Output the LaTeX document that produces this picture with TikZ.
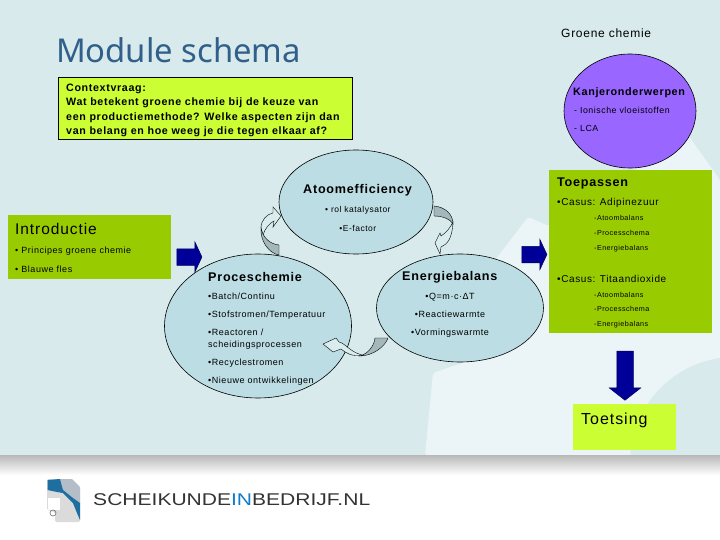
\documentclass[tikz,border=0pt]{standalone}
\usepackage{fontspec}
\usepackage{xcolor}
\setmainfont{Liberation Sans}
\newfontfamily\spaced[LetterSpace=6]{Liberation Sans}
\newfontfamily\titlefont{Noto Sans}
\usepackage{tikz}
\usetikzlibrary{arrows.meta, positioning, shapes.geometric, shapes.arrows}

\definecolor{pagebg}{HTML}{D8EAEB}
\definecolor{pagelight}{HTML}{EBF4F6}
\definecolor{bubble}{HTML}{BCDDE3}
\definecolor{kanjer}{HTML}{9966FF}
\definecolor{olive}{HTML}{99CC00}
\definecolor{lime}{HTML}{CCFF33}
\definecolor{navy}{HTML}{000099}
\definecolor{titleblue}{HTML}{2F5F8A}
\definecolor{bendgray}{HTML}{A3B8BC}
\definecolor{bendlight}{HTML}{D9ECEE}
\definecolor{logoslate}{HTML}{B4BEC8}
\definecolor{logoblue}{HTML}{1C6FA0}

\begin{document}
\begin{tikzpicture}[
    x=1pt, y=-1pt,
    every node/.style={font=\spaced\fontsize{9}{18}\selectfont, inner sep=0pt, align=left},
    bubble/.style={ellipse, draw, fill=bubble, line width=0.6pt},
    panel/.style={rectangle, fill=olive, anchor=north west},
    head/.style={anchor=base west, font=\spaced\bfseries\fontsize{12.6}{16}\selectfont},
    items/.style={anchor=base west},
    small/.style={anchor=base west, font=\spaced\fontsize{7.2}{14.5}\selectfont},
    block/.style={single arrow, draw=navy!60!black, fill=navy, line width=0.5pt,
                  inner sep=0pt, text width=16pt, text height=16pt, text depth=0pt,
                  single arrow head extend=7pt},
    bendgrey/.style={draw, fill=bendgray, line width=0.4pt},
    bendpale/.style={draw, fill=bendlight, line width=0.4pt}
  ]
  \useasboundingbox (0,0) rectangle (720,540);

  % background
  \fill[pagebg] (0,0) rectangle (720,455);
  \fill[pagelight, rounded corners=2pt] (528,217) -- (549,226) -- (688,135) -- (720,180) -- (720,455)
    -- (425,455) -- (433,373) -- (465,362) -- (480,280) -- cycle;
  \begin{scope}
    \clip (600,340) rectangle (720,455);
    \fill[pagebg] (735,462) circle (105);
  \end{scope}
  \shade[top color=black!28, bottom color=white] (0,455) rectangle (720,475);

  % logo
  \fill[black!14, rounded corners=1.5pt] (47,479) -- (72,479) -- (80,487) -- (80,522) -- (55,522)
    -- (55,512) -- (47,510) -- cycle;
  \fill[white] (48,498) rectangle (60,510);
  \fill[logoslate] (60,479) -- (72,479) -- (80,487) -- (80,503) -- (73,498) -- (63,490) -- cycle;
  \fill[logoblue] (47.5,480) -- (60,479) -- (63,490) -- (73,498) -- (80,503) -- (80,520)
    -- (77,513) -- (73,503) -- (63,493) -- (57,492) -- (47.5,490) -- cycle;
  \draw[black!50, line width=0.7pt] (53,513) circle (3);
  \node[anchor=base west, xscale=1.237, transform shape, text=black!80,
        font=\fontsize{17}{17}\selectfont] (logotext) at (93,505)
    {SCHEIKUNDE\textcolor{cyan!60!blue}{IN}BEDRIJF.NL};

  \node[anchor=base west, text=titleblue, font=\titlefont\fontsize{32.8}{35}\selectfont] (title) at (56,63) {Module schema};
  \node[anchor=base west, font=\spaced\fontsize{12}{14}\selectfont] (module) at (561,38) {Groene chemie};

  \node[rectangle, draw, fill=lime, anchor=north west, minimum width=294pt, minimum height=62pt] (context) at (58,77) {};
  \node[anchor=base west, font=\spaced\bfseries\fontsize{10.7}{14.5}\selectfont] (contexttext) at (66,135)
    {Contextvraag:\\Wat betekent groene chemie bij de keuze van\\een productiemethode? Welke aspecten zijn dan\\van belang en hoe weeg je die tegen elkaar af?};

  % bubbles
  \node[bubble, minimum width=132pt, minimum height=114pt, fill=kanjer] (kanjer) at (630,111) {};
  \node[bubble, minimum width=154pt, minimum height=104pt] (atoom) at (356,202) {};
  \node[bubble, minimum width=187pt, minimum height=144pt] (proces) at (258,326) {};
  \node[bubble, minimum width=167pt, minimum height=108pt] (energie) at (460,308) {};

  \node[panel, minimum width=163pt, minimum height=64pt] (intro) at (8,215) {};
  \node[panel, minimum width=163pt, minimum height=163pt] (toepassen) at (549,170) {};
  \node[panel, fill=lime, minimum width=103pt, minimum height=46pt] (toetsing) at (573,404) {};

  % block arrows
  \node[block, minimum height=25pt, single arrow tip angle=130] (introarrow) at (187.5,257) {};
  \node[block, minimum height=25pt, single arrow tip angle=130] (toepasarrow) at (532.5,254.5) {};
  \node[block, minimum height=49pt, single arrow tip angle=104,
        single arrow head extend=7.5pt, shape border rotate=270] (toetsarrow) at (625,372.5) {};

  % bent arrows between the bubbles
  \draw[bendpale] (261,228) .. controls (261,220) and (267,214) .. (273,213) -- (273,207) -- (281,216) -- (273,227)
    -- (274,221) .. controls (270,223) and (265,228) .. (263,235) -- cycle;
  \draw[bendgrey] (279,245) .. controls (270,244) and (263,238) .. (261,228) .. controls (260,240) and (268,253) .. (279,255) -- cycle;
  \draw[bendpale] (441,236) -- (440,233) -- (435,243) -- (440,254) -- (441,247) .. controls (447,244) and (452,240) .. (453,222)
    .. controls (450,228) and (446,233) .. (441,236) -- cycle;
  \draw[bendgrey] (434,206) .. controls (445,207) and (453,214) .. (453,224) .. controls (451,220) and (444,216) .. (434,216) -- cycle;
  \draw[bendpale] (323,344) -- (336,338) -- (339,342) .. controls (345,343) and (350,352) .. (362,355)
    .. controls (352,357) and (346,353) .. (341,349) -- (333,352) -- cycle;
  \draw[bendgrey] (375,338) -- (388,338) .. controls (385,347) and (372,356) .. (360,356) .. controls (367,354) and (374,347) .. (375,338) -- cycle;

  % texts
  \node[anchor=base west, font=\spaced\bfseries\fontsize{10.8}{14}\selectfont] (kanjerhead) at (573,96) {Kanjeronderwerpen};
  \node[items, font=\spaced\fontsize{8.8}{18}\selectfont] (kanjeritems) at (574,132) {- Ionische vloeistoffen\\- LCA};

  \node[head] (atoomhead) at (303,194) {Atoomefficiency};
  \node[items, align=center, font=\spaced\fontsize{8.5}{18}\selectfont] (atoomitems) at (325,231) {• rol katalysator\\•E-factor};

  \node[anchor=base west, font=\spaced\fontsize{15.5}{18}\selectfont] (introhead) at (15,235) {Introductie};
  \node[items] (introitems) at (15,272) {• Principes groene chemie\\• Blauwe fles};

  \node[head] (proceshead) at (208,281) {Proceschemie};
  \node[items] (procesitems) at (208,383)
    {•Batch/Continu\\•Stofstromen/Temperatuur\\•Reactoren /\\[-6pt]scheidingsprocessen\\•Recyclestromen\\•Nieuwe ontwikkelingen};

  \node[head] (energiehead) at (402,280) {Energiebalans};
  \node[items, align=center] (energieitems) at (411,335) {•Q=m·c·ΔT\\•Reactiewarmte\\•Vormingswarmte};

  \node[head] (toepashead) at (557,187) {Toepassen};
  \node[items, font=\spaced\fontsize{10}{18}\selectfont] (casusone) at (557,206) {•Casus: Adipinezuur};
  \node[small] (casusoneitems) at (594,250) {-Atoombalans\\-Processchema\\-Energiebalans};
  \node[items, font=\spaced\fontsize{10}{18}\selectfont] (casustwo) at (557,282) {•Casus: Titaandioxide};
  \node[small] (casustwoitems) at (594,326) {-Atoombalans\\-Processchema\\-Energiebalans};

  \node[anchor=base west, font=\spaced\fontsize{16}{18}\selectfont] (toetshead) at (581,424) {Toetsing};

\end{tikzpicture}
\end{document}
